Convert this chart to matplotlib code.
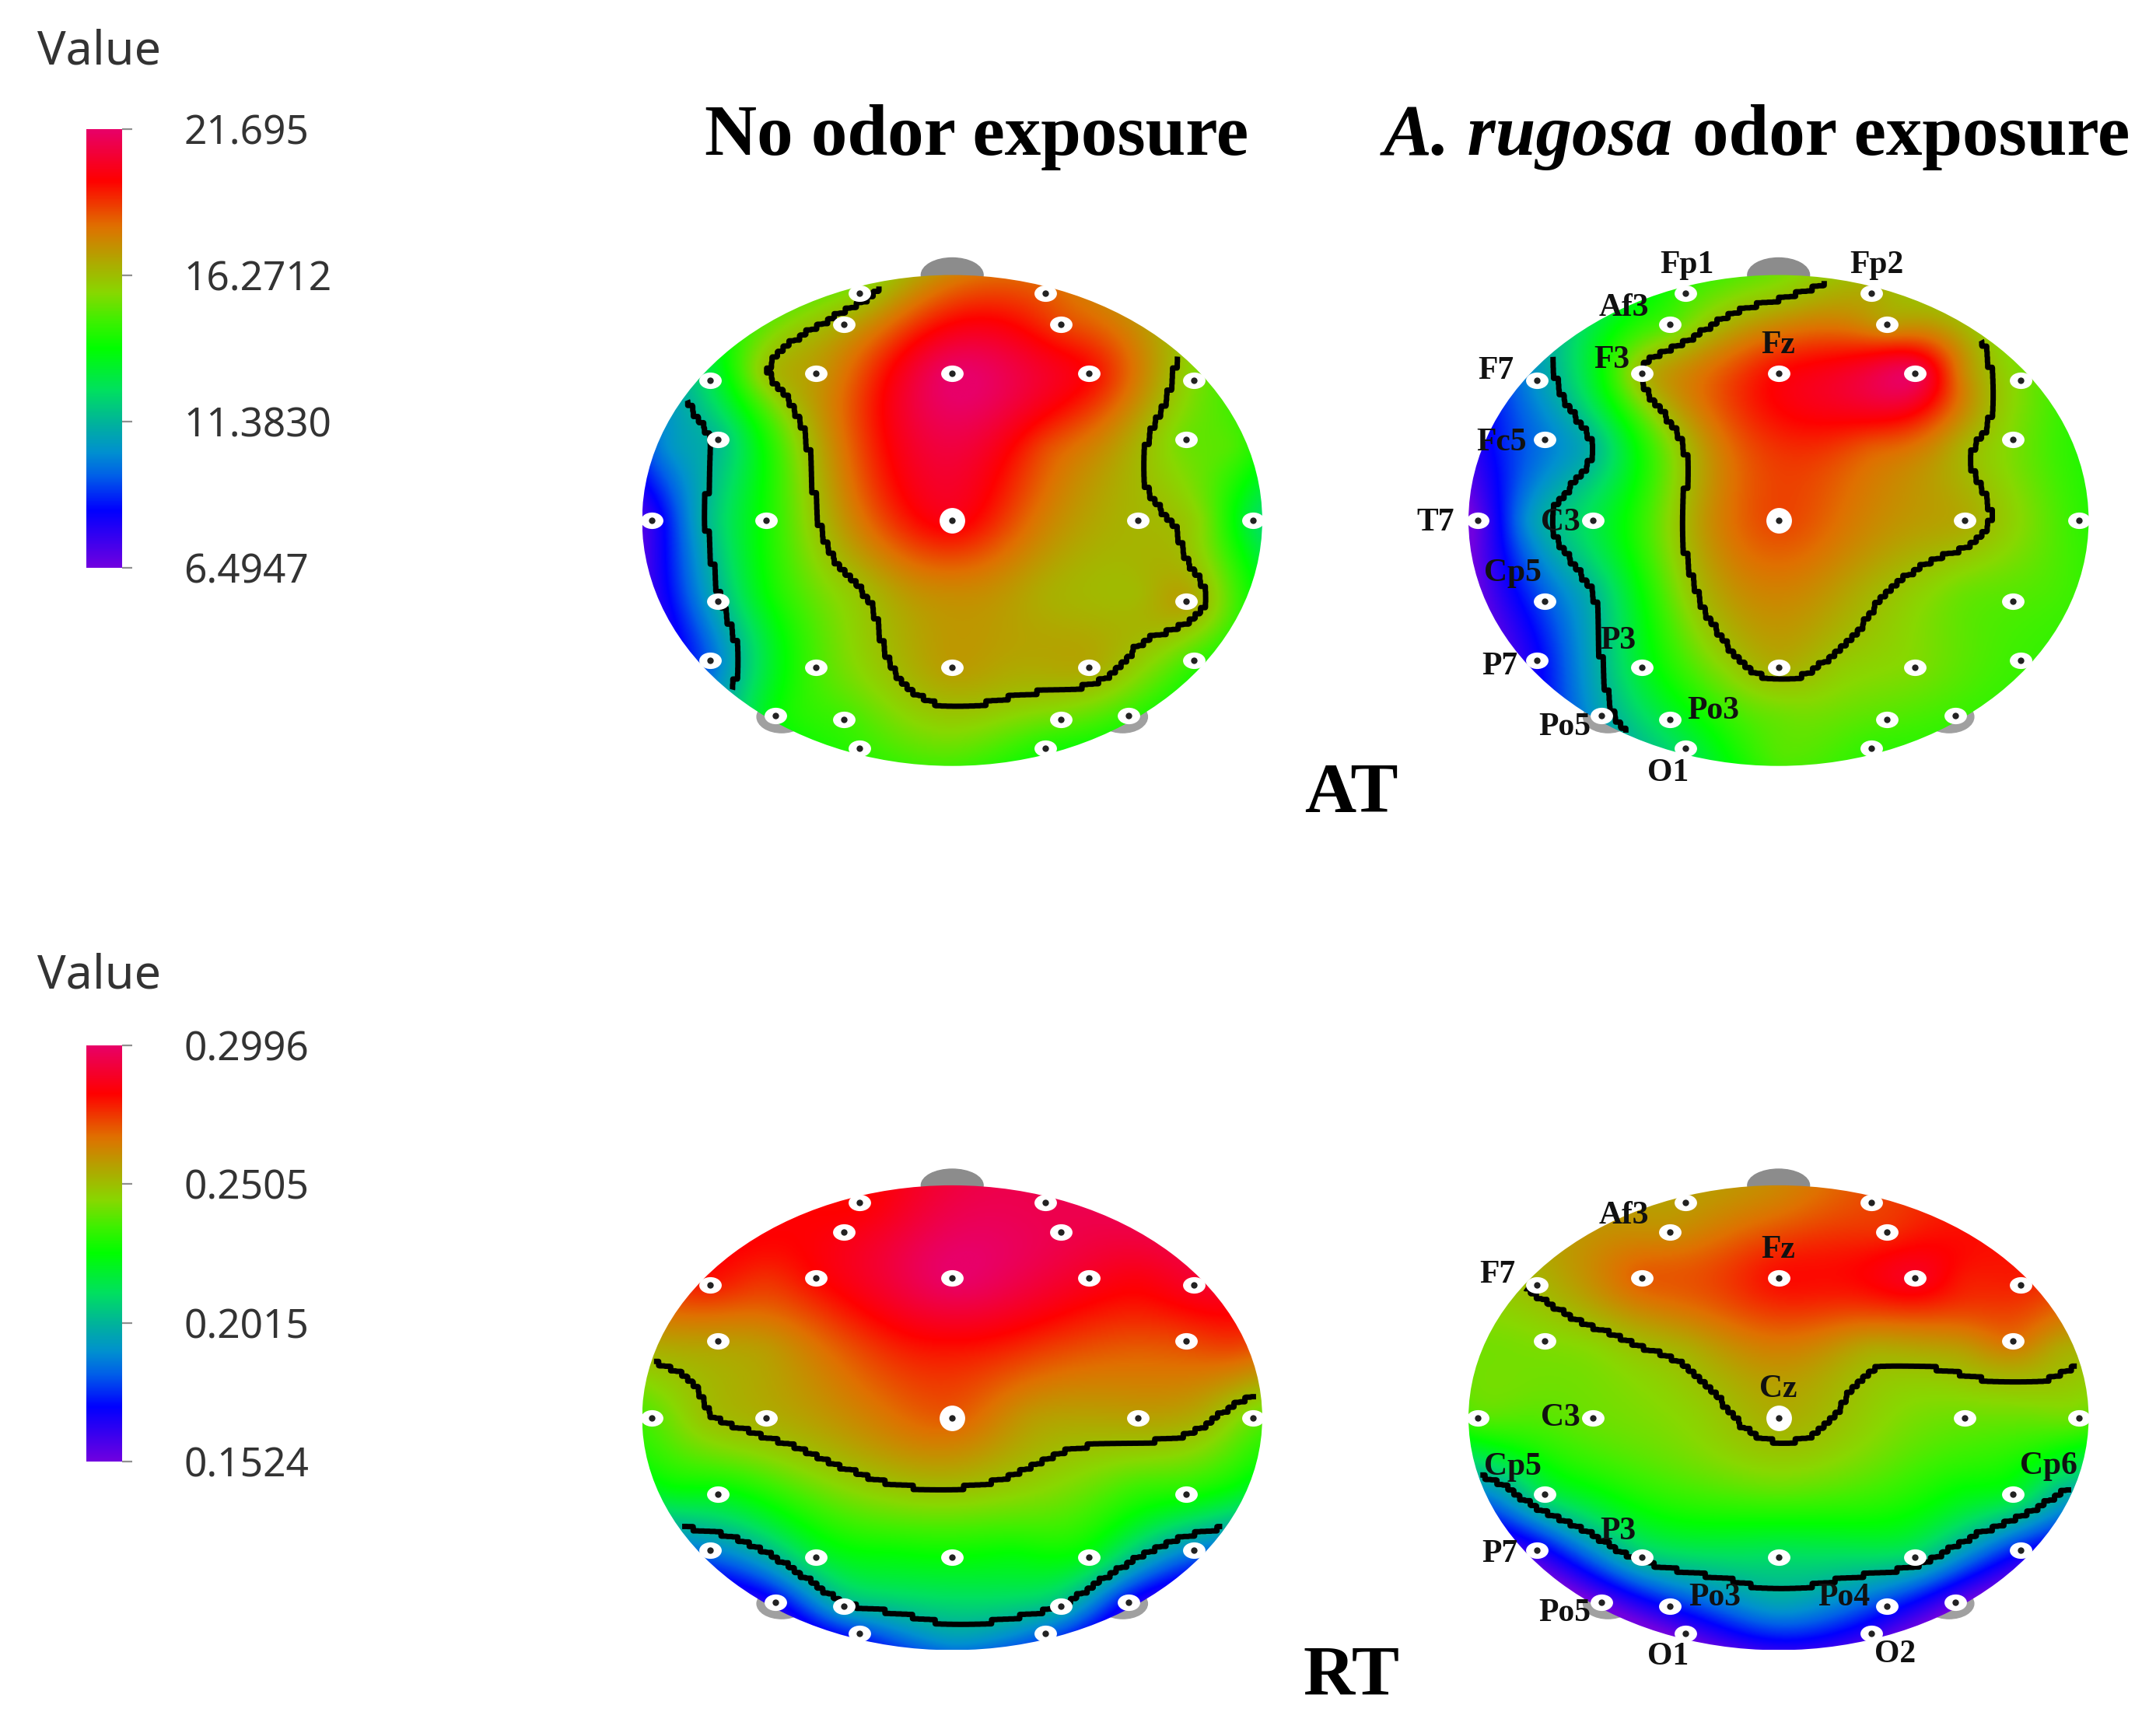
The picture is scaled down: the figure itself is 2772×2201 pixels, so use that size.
import numpy as np
import matplotlib
matplotlib.use('Agg')
from matplotlib import pyplot as plt
from matplotlib.colors import LinearSegmentedColormap
from matplotlib.markers import MarkerStyle
from matplotlib.patches import Ellipse
from matplotlib.transforms import Affine2D

# electrodes, positions on a unit head
names = ['Fp1','Fp2','Af3','Af4','F7','F3','Fz','F4','F8','Fc5','Fc6','T7','C3','Cz','C4','T8',
         'Cp5','Cp6','P7','P3','Pz','P4','P8','Po5','Po3','Po4','Po6','O1','O2']
elec_x = [-.30,.30,-.35,.35,-.78,-.44,0,.44,.78,-.755,.755,-.97,-.60,0,.60,.97,
          -.755,.755,-.78,-.44,0,.44,.78,-.57,-.35,.35,.57,-.30,.30]
elec_y = [.927,.927,.80,.80,.57,.60,.60,.60,.57,.33,.33,0,0,0,0,0,
          -.33,-.33,-.57,-.60,-.60,-.60,-.57,-.795,-.81,-.81,-.795,-.927,-.927]

at_none = [16.2,18.65,17.1,18.95,12.9,17.4,21.7,19.9,15.9,11.7,15.6,7.7,14.4,20.2,16.8,12.9,
           11.4,17.3,9.8,15.15,17.4,17.1,15.0,14.1,15.0,15.6,14.85,14.85,14.5]
at_rugosa = [15.0,17.1,15.3,17.4,10.7,16.8,19.9,21.5,15.9,10.1,15.9,6.8,12.9,18.95,17.1,14.85,
             9.5,15.3,8.3,13.5,17.0,15.9,15.0,11.05,13.3,15.3,15.0,12.9,14.85]
rt_none = [.282,.295,.285,.295,.279,.282,.2996,.288,.289,.258,.273,.238,.254,.270,.257,.241,
           .223,.229,.189,.217,.226,.222,.189,.170,.200,.202,.170,.179,.185]
rt_rugosa = [.258,.273,.261,.276,.252,.270,.281,.288,.278,.244,.267,.238,.241,.254,.241,.241,
             .214,.220,.167,.205,.211,.208,.174,.155,.174,.177,.157,.158,.164]

# extra readings between the electrodes
extra_x = [0,0,0,0,0,-.3,.3,-.3,.3,-.9,.9,-.9,.9,-.6,.6,-.2,.2,-.8,.8,-.25,.25,-.6,.6,-.6,.6]
extra_y = [.93,.3,-.3,-.8,-.97,.3,.3,-.3,-.3,.3,.3,-.3,-.3,.6,.6,-.6,-.6,0,0,0,0,.3,.3,-.3,-.3]
at_none_extra = [18.65,21.0,17.75,16.4,15.3,18.9,18.9,16.5,17.0,10.75,15.3,8.8,15.3,16.6,18.05,16.6,17.1,11.5,16.05,
                 18.65,18.35,14.4,16.85,14.1,16.7]
at_rugosa_extra = [16.3,19.25,17.9,15.6,15.3,16.7,18.65,16.2,16.8,8.8,15.0,7.7,15.15,13.5,17.75,15.9,16.3,10.75,15.9,
                   17.4,18.05,11.5,16.85,11.5,15.6]
rt_none_extra = [.2937,.2805,.2510,.2098,.1921,.2731,.2746,.2466,.2451,.2554,.2731,.2260,.2260,.2760,.2849,.2245,.2245,.2496,.2540,
                 .2643,.2584,.2584,.2702,.2334,.2348]
rt_rugosa_extra = [.2643,.2643,.2407,.1966,.1701,.2540,.2554,.2363,.2363,.2422,.2554,.1980,.2054,.2613,.2790,.2113,.2113,.2378,.2407,
                   .2466,.2481,.2451,.2584,.2260,.2260]

at_ticks = ['6.4947','11.3830','16.2712','21.695']
rt_ticks = ['0.1524','0.2015','0.2505','0.2996']
at_range = (6.4947,21.695)
rt_range = (0.1524,0.2996)

# colour bar stops
stops = [0,.13,.209,.262,.324,.404,.50,.565,.627,.70,.78,.884,1]
stop_cols = ['#7000e0','#0000ff','#0060e8','#0090d0','#00b0a0','#00e060','#00ff00',
             '#40f000','#88d800','#b0a800','#e07000','#ff0000','#e80068']
cmap = LinearSegmentedColormap.from_list('eeg',list(zip(stops,stop_cols)),N=512)

W,H = 1568.,1245.
plt.rcParams['font.family'] = ['Noto Sans','DejaVu Sans']
fig = plt.figure(figsize=(27.72,22.01),dpi=100)

def ftext(x,y,s,**kw):
    kw.setdefault('ha','center')
    kw.setdefault('va','center')
    return fig.text(x/W,1-y/H,s,**kw)

def tps(px,py,vals):
    # thin plate spline through the readings
    px = np.asarray(px); py = np.asarray(py); vals = np.asarray(vals,dtype=float)
    n = len(px)
    def kernel(dx,dy):
        r2 = dx**2+dy**2+1e-12
        return r2*np.log(r2)/2
    A = np.zeros((n+3,n+3))
    A[:n,:n] = kernel(px[:,None]-px[None,:],py[:,None]-py[None,:])+0.002*np.eye(n)
    P = np.column_stack([np.ones(n),px,py])
    A[:n,n:] = P
    A[n:,:n] = P.T
    coef = np.linalg.solve(A,np.r_[vals,0,0,0])
    def ev(X,Y):
        K = kernel(X[...,None]-px,Y[...,None]-py)
        return K@coef[:n]+coef[n]+coef[n+1]*X+coef[n+2]*Y
    return ev

def head(cx,cy,rx,ry,vals,extra,vrange):
    ax = fig.add_axes([(cx-1.05*rx)/W,1-(cy+1.05*ry)/H,2.1*rx/W,2.2*ry/H])
    ax.set_xlim(-1.05,1.05)
    ax.set_ylim(-1.05,1.15)
    ax.axis('off')
    ax.add_patch(Ellipse((0,1.0),.2,.14,color='#8c8c8c',zorder=1))
    for sx in (-1,1):
        ax.add_patch(Ellipse((sx*.55,-.80),.16,.13,color='#a0a0a0',zorder=1))
    f = tps(elec_x+extra_x,elec_y+extra_y,vals+extra)
    xx,yy = np.meshgrid(np.linspace(-1,1,500),np.linspace(-1,1,400))
    im = ax.imshow(np.clip(f(xx,yy),*vrange),extent=(-1,1,-1,1),origin='lower',cmap=cmap,
                   vmin=vrange[0],vmax=vrange[1],aspect='auto',zorder=2,interpolation='bilinear')
    edge = Ellipse((0,0),2,2,transform=ax.transData,fc='none',ec='none')
    ax.add_patch(edge)
    im.set_clip_path(edge)
    # blocky grid keeps the stepped look of the contour
    nx,ny,rep = 110,90,5
    xc,yc = np.meshgrid((np.arange(nx)+.5)/nx*2-1,(np.arange(ny)+.5)/ny*2-1)
    zc = f(xc,yc)
    zc[xc**2+yc**2>.985] = np.nan
    zc = np.repeat(np.repeat(zc,rep,axis=0),rep,axis=1)
    xf,yf = np.meshgrid((np.arange(nx*rep)+.5)/(nx*rep)*2-1,(np.arange(ny*rep)+.5)/(ny*rep)*2-1)
    step = (vrange[1]-vrange[0])/3
    ax.contour(xf,yf,zc,levels=[vrange[0]+step,vrange[0]+2*step],colors='black',linewidths=5,zorder=3)
    wide = MarkerStyle('o',transform=Affine2D().scale(1.2,.88))
    ax.scatter(elec_x,elec_y,s=300,marker=wide,c='white',linewidths=0,zorder=4)
    ax.scatter([0],[0],s=560,c='white',linewidths=0,zorder=4)
    ax.scatter(elec_x,elec_y,s=36,c='#222222',linewidths=0,zorder=5)
    return ax

def colorbar(ytop,ybot,labels,title_y):
    ax = fig.add_axes([63/W,1-ybot/H,26/W,(ybot-ytop)/H])
    ax.imshow(np.linspace(0,1,400)[:,None],origin='lower',cmap=cmap,aspect='auto',extent=(0,1,0,1))
    ax.set_xticks([])
    ax.set_yticks([0,1/3,2/3,1])
    ax.set_yticklabels(labels,fontsize=37,color='#333333')
    ax.yaxis.tick_right()
    ax.tick_params(axis='y',length=9,width=1.6,color='#909090',pad=48)
    for s in ax.spines.values():
        s.set_visible(False)
    ftext(72,title_y,'Value',fontsize=44,color='#333333')

colorbar(94,413,at_ticks,38)
colorbar(760,1063,rt_ticks,710)

head(692.5,378.5,225.5,178.5,at_none,at_none_extra,at_range)
head(1293.5,378.5,225.5,178.5,at_rugosa,at_rugosa_extra,at_range)
head(692.5,1031,225.5,169,rt_none,rt_none_extra,rt_range)
head(1293.5,1031,225.5,169,rt_rugosa,rt_rugosa_extra,rt_range)

serif = 'Liberation Serif'
ftext(710.5,100,'No odor exposure',family=serif,weight='bold',fontsize=67)
ftext(1006,100,'A. rugosa',family=serif,weight='bold',style='italic',fontsize=67,ha='left')
ftext(1231,100,'odor exposure',family=serif,weight='bold',fontsize=67,ha='left')
ftext(983,578,'AT',family=serif,weight='bold',fontsize=66)
ftext(983,1220,'RT',family=serif,weight='bold',fontsize=66)

at_labels = [('Fp1',1227,193),('Fp2',1365,193),('Af3',1181,224),('F7',1088,270),('F3',1172,262),
             ('Fz',1293,251),('Fc5',1092,322),('T7',1044,380),('C3',1135,380),('Cp5',1100,417),
             ('P7',1091,485),('P3',1177,466),('Po5',1138,529),('Po3',1246,517),('O1',1213,562)]
rt_labels = [('Af3',1181,884),('F7',1089,927),('Fz',1293,909),('Cz',1293,1010),('C3',1135,1031),
             ('Cp5',1100,1067),('Cp6',1490,1066),('P7',1091,1130),('P3',1177,1114),('Po5',1138,1173),
             ('Po3',1247,1162),('Po4',1341,1162),('O1',1213,1205),('O2',1378,1203)]
for s,x,y in at_labels+rt_labels:
    ftext(x,y,s,family=serif,weight='bold',fontsize=30,color='#111111',zorder=10)

fig.savefig('out.png',dpi=100)
